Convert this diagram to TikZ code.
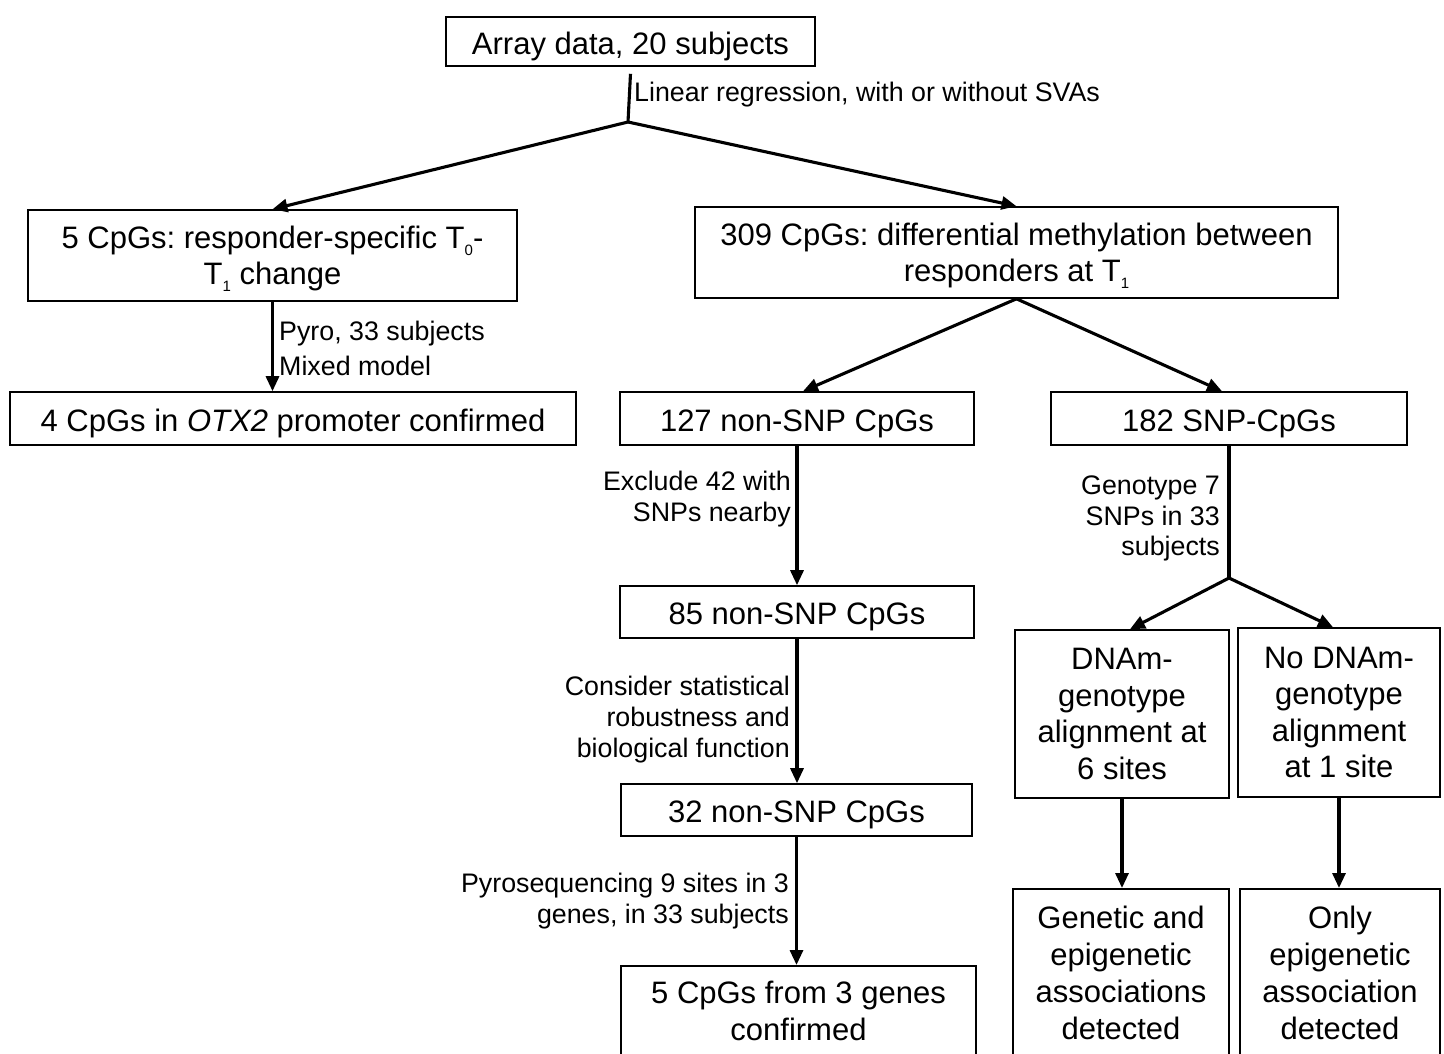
\documentclass[tikz,border=0pt]{standalone}
\usepackage{fontspec}
\setmainfont{Liberation Sans}
\usetikzlibrary{arrows.meta}
\frenchspacing
\newcommand{\sbs}[1]{\raisebox{-7pt}{\fontsize{15}{15}\selectfont #1}}
\tikzset{
  box/.style={draw, line width=1.6pt, font=\fontsize{31}{36.5}\selectfont, align=center, inner sep=0pt},
  one/.style={text height=25pt, text depth=0pt},
  txt/.style={font=\fontsize{31}{37}\selectfont, align=center, inner sep=0pt},
  lab/.style={font=\fontsize{26.8}{31}\selectfont, inner sep=0pt},
  conn/.style={line width=3.1pt, -{Triangle[length=15pt,width=13pt]}},
  plain/.style={line width=3.1pt},
}
\begin{document}
\begin{tikzpicture}[x=1pt,y=-1pt]
\clip (0,0) rectangle (1444,1053);
\fill[white] (0,0) rectangle (1444,1053);
% boxes
\node[box, one, minimum width=369, minimum height=49] (arr) at (630.5,41.5) {Array data, 20 subjects};
\node[box, text depth=0pt, minimum width=489, minimum height=91] (b5) at (272.5,255.5) {5 CpGs: responder-specific T\sbs{0}-\\T\sbs{1} change};
\node[box, text depth=0pt, minimum width=643, minimum height=91] (b309) at (1016.5,252.5) {309 CpGs: differential methylation between\\responders at T\sbs{1}};
\node[box, one, minimum width=566, minimum height=53] (otx) at (293,418.5) {4 CpGs in \textit{OTX2} promoter confirmed};
\node[box, one, minimum width=354, minimum height=53] (b127) at (797,418.5) {127 non-SNP CpGs};
\node[box, one, minimum width=356, minimum height=53] (b182) at (1229,418.5) {182 SNP-CpGs};
\node[box, one, minimum width=354, minimum height=52] (b85) at (797,612) {85 non-SNP CpGs};
\node[box, one, minimum width=351, minimum height=52] (b32) at (796.5,810) {32 non-SNP CpGs};
\node[box, minimum width=355, minimum height=140, anchor=north] (b5c) at (798.5,965) {};
\node[txt] (b5ct) at (798.5,1011) {5 CpGs from 3 genes\\confirmed};
\node[box, text depth=0pt, minimum width=214, minimum height=168] (bD) at (1122,714) {DNAm-\\genotype\\alignment at\\6 sites};
\node[box, text depth=0pt, minimum width=202, minimum height=169] (bN) at (1339,712.5) {No DNAm-\\genotype\\alignment\\at 1 site};
\node[box, minimum width=216, minimum height=200, anchor=north] (bG) at (1121,888) {};
\node[txt] (bGt) at (1121,973) {Genetic and\\epigenetic\\associations\\detected};
\node[box, minimum width=200, minimum height=200, anchor=north] (bO) at (1340,888) {};
\node[txt] (bOt) at (1340,973) {Only\\epigenetic\\association\\detected};
% junctions
\coordinate (j1) at (628,122);
\coordinate (j2) at (1229,578);
% connectors
\draw[plain] ([yshift=-7pt]arr.south) -- (j1);
\draw[conn] (j1) -- (b5.north);
\draw[conn] (j1) -- (b309.north);
\draw[conn] (b5.south) -- (b5.south |- otx.north);
\draw[conn] (b309.south) -- ([xshift=6pt]b127.north);
\draw[conn] (b309.south) -- ([xshift=-7pt]b182.north);
\draw[conn] (b127.south) -- (b85.north);
\draw[conn] (b85.south) -- (b85.south |- b32.north);
\draw[conn] (b32.south) -- (b32.south |- b5c.north);
\draw[plain] (b182.south) -- (j2);
\draw[conn] (j2) -- ([xshift=8pt]bD.north);
\draw[conn] (j2) -- ([xshift=-6pt]bN.north);
\draw[conn] (bD.south) -- (bD.south |- bG.north);
\draw[conn] (bN.south) -- (bN.south |- bO.north);
% labels
\node[lab, anchor=west] (l1) at (634,95) {Linear regression, with or without SVAs};
\node[lab, anchor=west, align=left, font=\fontsize{26.8}{35}\selectfont] (l2) at (279,348) {Pyro, 33 subjects\\Mixed model};
\node[lab, anchor=east, align=right] (l3) at (791,499.5) {Exclude 42 with\\SNPs nearby};
\node[lab, anchor=east, align=right] (l4) at (790,720) {Consider statistical\\robustness and\\biological function};
\node[lab, anchor=east, align=right] (l5) at (789,901.5) {Pyrosequencing 9 sites in 3\\genes, in 33 subjects};
\node[lab, anchor=east, align=right, font=\fontsize{26.8}{30.5}\selectfont] (l6) at (1220,518.5) {Genotype 7\\SNPs in 33\\subjects};
\end{tikzpicture}
\end{document}
